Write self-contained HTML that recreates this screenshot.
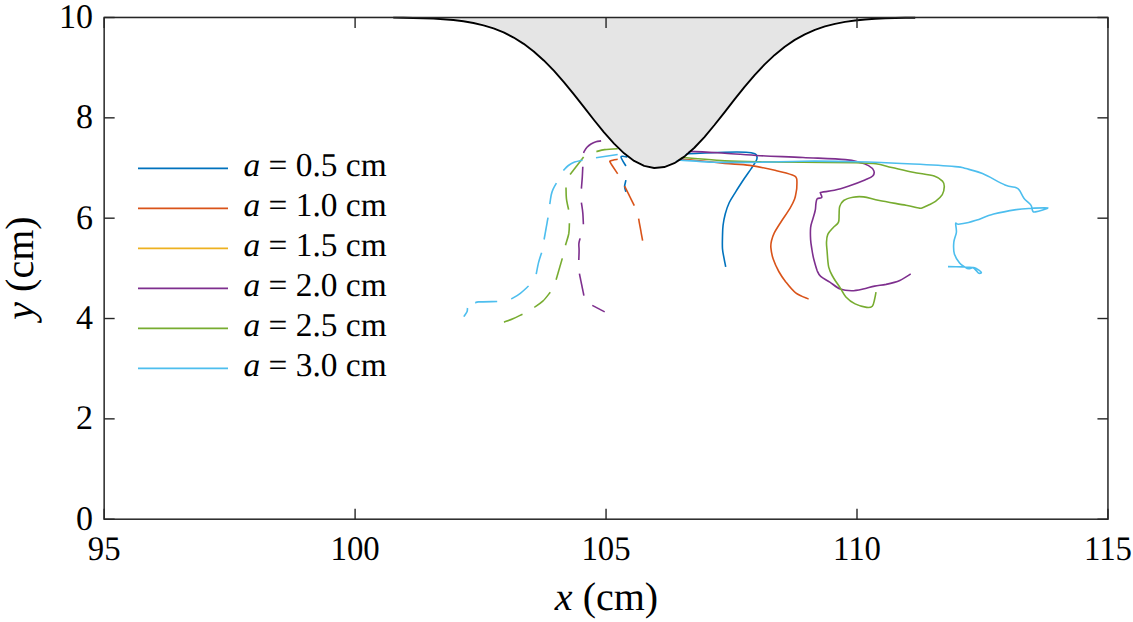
<!DOCTYPE html>
<html><head><meta charset="utf-8"><style>
html,body{margin:0;padding:0;background:#fff;width:1133px;height:622px;overflow:hidden;font-family:"Liberation Serif",serif;}
svg{display:block} text{text-rendering:geometricPrecision}
</style></head><body>
<svg width="1133" height="622" viewBox="0 0 1133 622">
<rect width="1133" height="622" fill="#fff"/>
<path d="M640.0,155.5 C648.1,155.2 674.6,154.4 688.7,153.8 C702.8,153.2 715.2,152.5 724.7,152.2 C734.2,151.9 740.9,151.9 745.9,152.2 C750.9,152.5 753.0,153.0 754.9,153.8 C756.8,154.6 756.8,155.8 757.0,157.0 C757.2,158.2 757.0,159.3 756.0,161.2 C755.0,163.1 753.3,165.5 751.2,168.6 C749.1,171.7 745.8,176.2 743.3,180.0 C740.8,183.8 738.3,187.6 736.0,191.3 C733.7,195.1 731.1,198.8 729.3,202.5 C727.5,206.2 726.3,210.1 725.3,213.8 C724.3,217.6 723.6,221.2 723.1,225.0 C722.6,228.8 722.6,232.3 722.5,236.3 C722.4,240.3 722.2,245.2 722.5,249.0 C722.8,252.8 723.7,256.1 724.2,259.1 C724.7,262.1 725.5,265.5 725.7,266.8" fill="none" stroke="#0072BD" stroke-width="1.6" stroke-linejoin="round"/>
<path d="M640.0,158.0 C647.1,158.2 672.4,158.9 682.4,159.4 C692.4,159.9 693.0,160.1 700.0,160.8 C707.0,161.5 716.4,162.6 724.7,163.4 C733.0,164.2 741.4,164.2 750.0,165.4 C758.6,166.6 769.4,169.1 776.5,170.7 C783.6,172.3 789.0,173.7 792.4,175.0 C795.8,176.3 795.9,176.6 796.6,178.6 C797.3,180.6 796.8,184.9 796.8,187.0 C796.8,189.1 796.7,189.3 796.3,191.3 C795.9,193.3 795.6,196.3 794.6,199.1 C793.6,201.9 792.4,204.3 790.1,208.1 C787.9,211.9 783.7,217.6 781.1,221.7 C778.5,225.8 775.9,229.7 774.3,232.9 C772.7,236.1 772.1,238.3 771.5,240.8 C770.9,243.3 770.6,244.8 770.9,247.9 C771.2,251.0 771.9,255.2 773.2,259.1 C774.5,263.0 776.7,267.7 778.8,271.5 C780.9,275.3 782.8,278.1 785.6,281.7 C788.4,285.3 791.9,290.0 795.7,292.9 C799.5,295.8 806.5,298.1 808.6,299.1" fill="none" stroke="#D95319" stroke-width="1.6" stroke-linejoin="round"/>
<path d="M640.0,150.5 C648.3,150.7 675.7,151.0 689.8,151.4 C703.9,151.8 713.0,152.5 724.7,153.2 C736.4,153.9 747.0,155.0 760.0,155.7 C773.0,156.4 788.8,156.8 803.0,157.5 C817.2,158.2 835.9,158.8 845.3,159.6 C854.6,160.4 855.2,161.2 859.1,162.2 C863.0,163.2 866.0,164.2 868.5,165.6 C871.0,167.0 873.1,169.0 873.8,170.7 C874.5,172.4 874.2,174.4 872.7,176.0 C871.2,177.6 868.9,178.3 864.9,180.0 C860.9,181.7 854.1,184.3 849.0,186.0 C843.9,187.7 838.9,189.3 834.4,190.3 C829.9,191.3 824.1,191.7 821.8,192.2 C819.5,192.7 820.5,192.5 820.5,193.2 C820.5,193.9 821.7,195.7 821.8,196.5 C821.9,197.3 822.0,197.5 821.2,197.9 C820.4,198.3 818.1,197.8 817.2,198.8 C816.3,199.8 816.2,201.9 815.9,203.8 C815.6,205.8 815.8,207.8 815.2,210.5 C814.7,213.2 813.4,216.8 812.6,219.7 C811.8,222.6 810.9,224.4 810.6,227.7 C810.3,231.0 810.4,235.9 810.6,239.6 C810.8,243.3 811.5,246.7 812.0,250.0 C812.5,253.3 812.9,255.8 813.8,259.2 C814.7,262.6 816.1,267.8 817.2,270.7 C818.4,273.6 818.6,274.5 820.7,276.4 C822.8,278.3 826.5,280.0 829.8,282.1 C833.0,284.2 836.6,287.6 840.2,289.0 C843.8,290.4 847.8,290.7 851.6,290.7 C855.4,290.7 859.3,289.8 863.1,289.0 C866.9,288.2 870.8,286.9 874.6,286.1 C878.4,285.3 881.9,285.3 886.1,284.4 C890.3,283.4 895.7,282.1 899.8,280.4 C903.9,278.6 908.9,275.0 910.7,273.9" fill="none" stroke="#7E2F8E" stroke-width="1.6" stroke-linejoin="round"/>
<path d="M640.0,157.0 C647.1,157.1 668.3,156.8 682.4,157.5 C696.5,158.2 711.8,160.2 724.7,160.9 C737.6,161.6 747.0,161.7 760.0,161.9 C773.0,162.1 787.0,162.0 803.0,162.2 C819.0,162.3 843.8,162.5 855.9,162.8 C868.0,163.1 869.9,163.0 875.9,163.8 C881.9,164.6 885.6,166.1 891.8,167.5 C898.0,168.9 905.9,170.9 913.0,172.3 C920.1,173.7 929.3,174.5 934.2,176.0 C939.1,177.5 940.9,179.5 942.6,181.3 C944.3,183.1 944.3,184.4 944.3,186.6 C944.2,188.8 943.8,192.1 942.3,194.6 C940.8,197.1 937.8,199.7 935.5,201.4 C933.2,203.1 930.8,203.9 928.5,205.0 C926.2,206.1 923.8,207.5 922.0,208.0 C920.2,208.5 920.2,208.3 917.5,207.8 C914.8,207.3 912.2,206.4 905.9,205.2 C899.5,204.0 886.4,201.9 879.4,200.5 C872.4,199.1 868.0,197.5 863.6,196.9 C859.2,196.3 856.3,196.6 853.0,197.2 C849.7,197.8 845.9,198.9 843.7,200.5 C841.5,202.1 840.5,204.2 839.7,206.5 C838.9,208.8 839.3,211.8 839.1,214.4 C838.9,217.1 839.4,220.2 838.4,222.4 C837.4,224.6 834.9,225.7 833.1,227.7 C831.3,229.7 828.9,231.9 827.8,234.3 C826.7,236.7 826.6,239.6 826.5,242.2 C826.4,244.8 826.6,245.8 827.0,250.0 C827.4,254.2 827.7,262.6 828.7,267.2 C829.8,271.8 831.4,274.1 833.3,277.5 C835.2,280.9 838.1,284.6 840.2,287.9 C842.3,291.1 843.4,294.3 845.9,297.0 C848.4,299.7 851.6,302.2 855.1,303.9 C858.6,305.6 863.7,307.0 866.6,307.4 C869.5,307.8 871.0,307.5 872.3,306.2 C873.6,304.9 874.0,301.6 874.6,299.3 C875.2,297.0 875.8,293.4 876.0,292.2" fill="none" stroke="#77AC30" stroke-width="1.6" stroke-linejoin="round"/>
<path d="M640.0,159.5 C646.7,159.6 667.9,159.7 680.3,160.1 C692.7,160.5 700.9,161.8 714.2,162.2 C727.5,162.5 745.2,162.4 760.0,162.2 C774.8,162.0 787.0,161.3 803.0,161.2 C819.0,161.1 837.6,161.2 855.9,161.7 C874.2,162.2 896.4,163.2 913.0,164.0 C929.6,164.8 946.5,165.8 955.3,166.6 C964.1,167.4 961.4,167.4 965.9,168.6 C970.4,169.8 976.0,170.9 982.5,173.6 C989.0,176.3 999.4,182.6 1005.0,184.9 C1010.6,187.2 1013.8,186.8 1016.2,187.7 C1018.6,188.6 1018.3,188.7 1019.6,190.5 C1020.9,192.3 1022.2,196.0 1024.1,198.4 C1026.0,200.8 1029.5,203.1 1030.9,205.1 C1032.3,207.1 1031.8,209.6 1032.6,210.7 C1033.3,211.8 1032.9,212.4 1035.4,211.9 C1037.9,211.4 1048.3,208.5 1047.7,207.9 C1047.1,207.3 1037.2,208.0 1032.0,208.3 C1026.8,208.6 1022.6,208.6 1016.2,209.6 C1009.8,210.6 1000.2,212.4 993.7,214.1 C987.2,215.8 981.1,218.6 976.9,220.0 C972.7,221.4 971.7,221.8 968.6,222.5 C965.5,223.2 960.4,224.0 958.3,224.2 C956.1,224.4 956.0,222.2 955.7,223.5 C955.4,224.8 956.7,229.0 956.4,232.2 C956.1,235.3 954.1,238.8 953.8,242.4 C953.5,246.0 953.4,250.6 954.4,254.0 C955.4,257.4 957.9,260.9 959.6,263.0 C961.3,265.1 963.2,265.9 964.7,266.9 C966.2,267.9 967.1,268.7 968.6,268.8 C970.1,268.9 972.0,267.3 973.7,267.5 C975.4,267.7 977.6,269.2 978.9,270.1 C980.2,271.0 981.4,272.2 981.4,272.7 C981.4,273.2 979.8,273.6 978.9,273.3 C978.0,273.0 977.4,271.7 976.3,270.7 C975.2,269.7 974.8,268.1 972.4,267.5 C970.0,266.9 966.3,267.0 962.2,266.9 C958.1,266.8 950.4,266.7 948.0,266.6" fill="none" stroke="#4DBEEE" stroke-width="1.6" stroke-linejoin="round"/>
<path d="M627.3,156.9 C626.2,156.9 621.2,155.4 621.0,156.9 C620.8,158.4 625.1,164.5 625.9,166.0" fill="none" stroke="#0072BD" stroke-width="1.6" stroke-linejoin="round"/>
<path d="M625.9,180.2 C625.7,181.3 624.6,184.7 624.6,186.6 C624.6,188.5 625.7,190.9 625.9,191.8" fill="none" stroke="#0072BD" stroke-width="1.6" stroke-linejoin="round"/>
<path d="M617.7,159.3 C616.6,159.5 612.1,160.1 610.9,160.7 C609.7,161.3 609.3,160.5 610.4,162.7 C611.5,164.9 616.5,172.0 617.7,173.8" fill="none" stroke="#D95319" stroke-width="1.6" stroke-linejoin="round"/>
<path d="M624.6,186.2 L634.3,205.6" fill="none" stroke="#D95319" stroke-width="1.6" stroke-linejoin="round"/>
<path d="M638.6,218.7 L642.6,240.7" fill="none" stroke="#D95319" stroke-width="1.6" stroke-linejoin="round"/>
<path d="M601.1,140.9 C600.2,141.1 597.7,141.3 596.0,141.8 C594.3,142.3 592.5,143.1 591.0,144.0 C589.5,144.9 588.1,146.1 587.0,147.3 C585.9,148.5 584.9,150.2 584.3,151.2 C583.7,152.2 583.7,152.8 583.6,153.1" fill="none" stroke="#7E2F8E" stroke-width="1.6" stroke-linejoin="round"/>
<path d="M582.8,166.8 C582.7,168.5 582.5,173.3 582.3,176.9 C582.1,180.5 581.5,186.7 581.4,188.6" fill="none" stroke="#7E2F8E" stroke-width="1.6" stroke-linejoin="round"/>
<path d="M581.4,202.6 C581.6,204.3 582.5,209.3 582.8,212.9 C583.1,216.5 583.3,222.3 583.4,224.2" fill="none" stroke="#7E2F8E" stroke-width="1.6" stroke-linejoin="round"/>
<path d="M580.1,238.3 C579.9,239.2 579.1,241.6 578.9,243.6 C578.7,245.6 579.1,247.8 579.1,250.5 C579.1,253.2 578.8,258.4 578.8,260.0" fill="none" stroke="#7E2F8E" stroke-width="1.6" stroke-linejoin="round"/>
<path d="M579.4,273.6 L583.9,295.6" fill="none" stroke="#7E2F8E" stroke-width="1.6" stroke-linejoin="round"/>
<path d="M592.3,305.4 L604.7,311.9" fill="none" stroke="#7E2F8E" stroke-width="1.6" stroke-linejoin="round"/>
<path d="M617.7,148.7 C615.5,148.8 608.2,149.1 604.6,149.6 C601.0,150.1 597.8,151.3 596.4,151.6" fill="none" stroke="#77AC30" stroke-width="1.6" stroke-linejoin="round"/>
<path d="M583.6,157.0 L570.1,174.5" fill="none" stroke="#77AC30" stroke-width="1.6" stroke-linejoin="round"/>
<path d="M566.0,187.5 C566.1,189.3 566.0,194.6 566.4,198.3 C566.8,202.0 568.2,207.7 568.6,209.6" fill="none" stroke="#77AC30" stroke-width="1.6" stroke-linejoin="round"/>
<path d="M569.4,223.2 C569.3,224.9 569.4,229.8 568.8,233.5 C568.1,237.2 566.0,243.2 565.5,245.2" fill="none" stroke="#77AC30" stroke-width="1.6" stroke-linejoin="round"/>
<path d="M562.3,258.4 L556.1,279.8" fill="none" stroke="#77AC30" stroke-width="1.6" stroke-linejoin="round"/>
<path d="M550.3,292.2 C549.0,293.7 545.5,298.7 542.8,301.2 C540.1,303.7 535.7,306.4 534.3,307.4" fill="none" stroke="#77AC30" stroke-width="1.6" stroke-linejoin="round"/>
<path d="M522.5,314.2 C520.9,314.9 516.0,317.4 512.9,318.7 C509.8,320.0 505.5,321.6 504.0,322.2" fill="none" stroke="#77AC30" stroke-width="1.6" stroke-linejoin="round"/>
<path d="M617.7,154.5 L596.0,157.8" fill="none" stroke="#4DBEEE" stroke-width="1.6" stroke-linejoin="round"/>
<path d="M582.5,160.2 C581.2,160.5 577.0,161.2 574.6,162.1 C572.2,163.0 570.3,164.1 568.4,165.5 C566.5,166.9 564.2,169.7 563.4,170.5" fill="none" stroke="#4DBEEE" stroke-width="1.6" stroke-linejoin="round"/>
<path d="M556.4,183.1 C555.8,184.1 553.9,187.3 553.0,189.3 C552.1,191.3 551.7,192.5 551.2,195.0 C550.7,197.5 550.0,202.6 549.8,204.1" fill="none" stroke="#4DBEEE" stroke-width="1.6" stroke-linejoin="round"/>
<path d="M548.0,217.6 L544.1,239.5" fill="none" stroke="#4DBEEE" stroke-width="1.6" stroke-linejoin="round"/>
<path d="M541.6,252.8 C541.1,254.4 539.5,258.8 538.6,262.4 C537.7,266.0 536.6,272.2 536.2,274.2" fill="none" stroke="#4DBEEE" stroke-width="1.6" stroke-linejoin="round"/>
<path d="M528.6,286.0 C527.2,287.2 523.2,291.1 520.3,293.3 C517.4,295.5 512.8,298.1 511.3,299.0" fill="none" stroke="#4DBEEE" stroke-width="1.6" stroke-linejoin="round"/>
<path d="M497.2,301.5 C494.1,301.6 481.9,301.6 478.3,301.9 C474.7,302.2 476.0,303.0 475.5,303.2" fill="none" stroke="#4DBEEE" stroke-width="1.6" stroke-linejoin="round"/>
<path d="M467.5,308.0 C467.4,308.6 467.6,310.4 467.0,311.8 C466.4,313.2 464.3,315.8 463.8,316.6" fill="none" stroke="#4DBEEE" stroke-width="1.6" stroke-linejoin="round"/>
<path d="M104.15,16.20 L112.18,16.20 L122.22,16.20 L132.26,16.20 L142.29,16.20 L152.33,16.20 L162.37,16.20 L172.41,16.20 L182.45,16.20 L192.48,16.20 L202.52,16.20 L212.56,16.20 L222.60,16.20 L232.64,16.20 L242.67,16.20 L252.71,16.20 L262.75,16.20 L272.79,16.20 L282.83,16.20 L292.86,16.20 L302.90,16.20 L312.94,16.20 L322.98,16.20 L333.02,16.20 L343.05,16.21 L353.09,16.22 L363.13,16.23 L373.17,16.25 L383.21,16.29 L393.24,16.36 L403.28,16.46 L413.32,16.63 L423.36,16.89 L433.40,17.29 L443.43,17.88 L453.47,18.74 L463.51,19.97 L473.55,21.68 L483.59,24.01 L493.62,27.11 L503.66,31.13 L513.70,36.24 L523.74,42.55 L533.78,50.18 L543.81,59.13 L553.85,69.38 L563.89,80.76 L573.93,93.03 L583.97,105.82 L594.00,118.68 L604.04,131.05 L614.08,142.37 L624.12,152.06 L634.16,159.60 L644.19,164.56 L654.23,166.65 L664.27,165.75 L674.31,161.91 L684.35,155.36 L694.38,146.47 L704.42,135.74 L714.46,123.71 L724.50,110.99 L734.54,98.11 L744.57,85.58 L754.61,73.81 L764.65,63.08 L774.69,53.60 L784.73,45.44 L794.76,38.61 L804.80,33.04 L814.84,28.60 L824.88,25.15 L834.92,22.53 L844.95,20.59 L854.99,19.19 L865.03,18.19 L875.07,17.50 L885.11,17.03 L895.14,16.72 L905.18,16.52 L915.22,16.39 L925.26,16.31 L935.30,16.27 L945.33,16.24 L955.37,16.22 L965.41,16.21 L975.45,16.21 L985.49,16.20 L995.52,16.20 L1005.56,16.20 L1015.60,16.20 L1025.64,16.20 L1035.68,16.20 L1045.71,16.20 L1055.75,16.20 L1065.79,16.20 L1075.83,16.20 L1085.87,16.20 L1095.90,16.20 L1105.94,16.20 L1107.95,16.20 L1107.95,17.50 L104.15,17.50 Z" fill="#E5E5E5" stroke="none"/>
<path d="M393.24,17.66 L403.28,17.76 L413.32,17.93 L423.36,18.19 L433.40,18.59 L443.43,19.18 L453.47,20.04 L463.51,21.27 L473.55,22.98 L483.59,25.31 L493.62,28.41 L503.66,32.43 L513.70,37.54 L523.74,43.85 L533.78,51.48 L543.81,60.43 L553.85,70.68 L563.89,82.06 L573.93,94.33 L583.97,107.12 L594.00,119.98 L604.04,132.35 L614.08,143.67 L624.12,153.36 L634.16,160.90 L644.19,165.86 L654.23,167.95 L664.27,167.05 L674.31,163.21 L684.35,156.66 L694.38,147.77 L704.42,137.04 L714.46,125.01 L724.50,112.29 L734.54,99.41 L744.57,86.88 L754.61,75.11 L764.65,64.38 L774.69,54.90 L784.73,46.74 L794.76,39.91 L804.80,34.34 L814.84,29.90 L824.88,26.45 L834.92,23.83 L844.95,21.89 L854.99,20.49 L865.03,19.49 L875.07,18.80 L885.11,18.33 L895.14,18.02 L905.18,17.82 L915.22,17.69" fill="none" stroke="#000" stroke-width="1.9" stroke-linejoin="round"/>
<rect x="104.15" y="17.50" width="1003.80" height="501.70" fill="none" stroke="#262626" stroke-width="1.5"/>
<line x1="104.15" y1="519.20" x2="104.15" y2="508.70" stroke="#262626" stroke-width="1.4"/>
<line x1="104.15" y1="17.50" x2="104.15" y2="28.00" stroke="#262626" stroke-width="1.4"/>
<text transform="translate(104.15,559.50) scale(0.95,1)" font-family="Liberation Serif" font-size="34.5" text-anchor="middle" fill="#000">95</text>
<line x1="355.10" y1="519.20" x2="355.10" y2="508.70" stroke="#262626" stroke-width="1.4"/>
<line x1="355.10" y1="17.50" x2="355.10" y2="28.00" stroke="#262626" stroke-width="1.4"/>
<text transform="translate(355.10,559.50) scale(0.95,1)" font-family="Liberation Serif" font-size="34.5" text-anchor="middle" fill="#000">100</text>
<line x1="606.05" y1="519.20" x2="606.05" y2="508.70" stroke="#262626" stroke-width="1.4"/>
<line x1="606.05" y1="17.50" x2="606.05" y2="28.00" stroke="#262626" stroke-width="1.4"/>
<text transform="translate(606.05,559.50) scale(0.95,1)" font-family="Liberation Serif" font-size="34.5" text-anchor="middle" fill="#000">105</text>
<line x1="857.00" y1="519.20" x2="857.00" y2="508.70" stroke="#262626" stroke-width="1.4"/>
<line x1="857.00" y1="17.50" x2="857.00" y2="28.00" stroke="#262626" stroke-width="1.4"/>
<text transform="translate(857.00,559.50) scale(0.95,1)" font-family="Liberation Serif" font-size="34.5" text-anchor="middle" fill="#000">110</text>
<line x1="1107.95" y1="519.20" x2="1107.95" y2="508.70" stroke="#262626" stroke-width="1.4"/>
<line x1="1107.95" y1="17.50" x2="1107.95" y2="28.00" stroke="#262626" stroke-width="1.4"/>
<text transform="translate(1107.95,559.50) scale(0.95,1)" font-family="Liberation Serif" font-size="34.5" text-anchor="middle" fill="#000">115</text>
<line x1="104.15" y1="519.20" x2="114.65" y2="519.20" stroke="#262626" stroke-width="1.4"/>
<line x1="1107.95" y1="519.20" x2="1097.45" y2="519.20" stroke="#262626" stroke-width="1.4"/>
<text transform="translate(93.10,529.70) scale(0.985,1)" font-family="Liberation Serif" font-size="34.5" text-anchor="end" fill="#000">0</text>
<line x1="104.15" y1="418.86" x2="114.65" y2="418.86" stroke="#262626" stroke-width="1.4"/>
<line x1="1107.95" y1="418.86" x2="1097.45" y2="418.86" stroke="#262626" stroke-width="1.4"/>
<text transform="translate(93.10,429.36) scale(0.985,1)" font-family="Liberation Serif" font-size="34.5" text-anchor="end" fill="#000">2</text>
<line x1="104.15" y1="318.52" x2="114.65" y2="318.52" stroke="#262626" stroke-width="1.4"/>
<line x1="1107.95" y1="318.52" x2="1097.45" y2="318.52" stroke="#262626" stroke-width="1.4"/>
<text transform="translate(93.10,329.02) scale(0.985,1)" font-family="Liberation Serif" font-size="34.5" text-anchor="end" fill="#000">4</text>
<line x1="104.15" y1="218.18" x2="114.65" y2="218.18" stroke="#262626" stroke-width="1.4"/>
<line x1="1107.95" y1="218.18" x2="1097.45" y2="218.18" stroke="#262626" stroke-width="1.4"/>
<text transform="translate(93.10,228.68) scale(0.985,1)" font-family="Liberation Serif" font-size="34.5" text-anchor="end" fill="#000">6</text>
<line x1="104.15" y1="117.84" x2="114.65" y2="117.84" stroke="#262626" stroke-width="1.4"/>
<line x1="1107.95" y1="117.84" x2="1097.45" y2="117.84" stroke="#262626" stroke-width="1.4"/>
<text transform="translate(93.10,128.34) scale(0.985,1)" font-family="Liberation Serif" font-size="34.5" text-anchor="end" fill="#000">8</text>
<line x1="104.15" y1="17.50" x2="114.65" y2="17.50" stroke="#262626" stroke-width="1.4"/>
<line x1="1107.95" y1="17.50" x2="1097.45" y2="17.50" stroke="#262626" stroke-width="1.4"/>
<text transform="translate(93.10,28.00) scale(0.985,1)" font-family="Liberation Serif" font-size="34.5" text-anchor="end" fill="#000">10</text>
<text x="606.5" y="610.2" font-family="Liberation Serif" font-size="40" text-anchor="middle" fill="#000"><tspan font-style="italic">x</tspan> (cm)</text>
<text transform="translate(33.3,268) rotate(-90)" x="0" y="0" font-family="Liberation Serif" font-size="40" text-anchor="middle" fill="#000"><tspan font-style="italic">y</tspan> (cm)</text>
<line x1="138" y1="168.4" x2="228" y2="168.4" stroke="#0072BD" stroke-width="1.6"/>
<text x="243.5" y="175.9" font-family="Liberation Serif" font-size="33.4" fill="#000"><tspan font-style="italic">a</tspan> = 0.5 cm</text>
<line x1="138" y1="208.4" x2="228" y2="208.4" stroke="#D95319" stroke-width="1.6"/>
<text x="243.5" y="215.9" font-family="Liberation Serif" font-size="33.4" fill="#000"><tspan font-style="italic">a</tspan> = 1.0 cm</text>
<line x1="138" y1="248.4" x2="228" y2="248.4" stroke="#EDB120" stroke-width="1.6"/>
<text x="243.5" y="255.9" font-family="Liberation Serif" font-size="33.4" fill="#000"><tspan font-style="italic">a</tspan> = 1.5 cm</text>
<line x1="138" y1="288.4" x2="228" y2="288.4" stroke="#7E2F8E" stroke-width="1.6"/>
<text x="243.5" y="295.9" font-family="Liberation Serif" font-size="33.4" fill="#000"><tspan font-style="italic">a</tspan> = 2.0 cm</text>
<line x1="138" y1="328.4" x2="228" y2="328.4" stroke="#77AC30" stroke-width="1.6"/>
<text x="243.5" y="335.9" font-family="Liberation Serif" font-size="33.4" fill="#000"><tspan font-style="italic">a</tspan> = 2.5 cm</text>
<line x1="138" y1="368.4" x2="228" y2="368.4" stroke="#4DBEEE" stroke-width="1.6"/>
<text x="243.5" y="375.9" font-family="Liberation Serif" font-size="33.4" fill="#000"><tspan font-style="italic">a</tspan> = 3.0 cm</text>
</svg>
</body></html>
